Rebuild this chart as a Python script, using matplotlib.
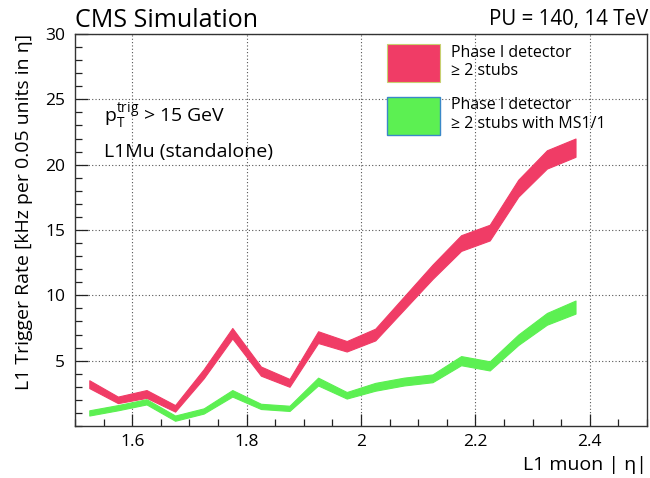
import matplotlib
matplotlib.use("Agg")
import matplotlib.pyplot as plt
from matplotlib.patches import Patch
from matplotlib.ticker import MultipleLocator, FixedLocator

# bin centres in |eta| (0.05 wide bins)
eta = [1.525, 1.575, 1.625, 1.675, 1.725, 1.775, 1.825, 1.875, 1.925,
       1.975, 2.025, 2.075, 2.125, 2.175, 2.225, 2.275, 2.325, 2.375]

# >= 2 stubs
rate_2stubs = [3.2, 2.0, 2.45, 1.35, 4.0, 7.1, 4.2, 3.3, 6.8,
               6.1, 7.0, 9.4, 11.8, 14.0, 14.8, 18.2, 20.4, 21.3]
err_2stubs = [0.3, 0.25, 0.3, 0.25, 0.35, 0.4, 0.35, 0.3, 0.45,
              0.4, 0.45, 0.5, 0.55, 0.6, 0.6, 0.65, 0.7, 0.7]

# >= 2 stubs with ME1/1
rate_ms11 = [1.0, 1.4, 1.85, 0.6, 1.15, 2.5, 1.5, 1.35, 3.4,
             2.35, 3.0, 3.4, 3.65, 5.0, 4.6, 6.6, 8.2, 9.1]
err_ms11 = [0.2, 0.2, 0.2, 0.2, 0.2, 0.25, 0.2, 0.2, 0.3,
            0.25, 0.3, 0.3, 0.3, 0.35, 0.35, 0.4, 0.45, 0.5]

RED = "#f03c66"
GREEN = "#5cf052"

plt.rcParams["font.family"] = ["Open Sans", "DejaVu Sans"]

fig = plt.figure(figsize=(6.5, 4.78), dpi=100)
ax = fig.add_axes([0.1154, 0.1088, 0.88, 0.8201])

lo = [r - e for r, e in zip(rate_2stubs, err_2stubs)]
hi = [r + e for r, e in zip(rate_2stubs, err_2stubs)]
ax.fill_between(eta, lo, hi, color=RED, lw=0.8, edgecolor=RED, zorder=3)
lo = [r - e for r, e in zip(rate_ms11, err_ms11)]
hi = [r + e for r, e in zip(rate_ms11, err_ms11)]
ax.fill_between(eta, lo, hi, color=GREEN, lw=0.8, edgecolor=GREEN, zorder=3)

ax.set_xlim(1.5, 2.5)
ax.set_ylim(0, 30)
ax.xaxis.set_major_locator(FixedLocator([1.6, 1.8, 2.0, 2.2, 2.4]))
ax.xaxis.set_minor_locator(MultipleLocator(0.05))
ax.yaxis.set_major_locator(FixedLocator([5, 10, 15, 20, 25, 30]))
ax.yaxis.set_minor_locator(MultipleLocator(1))
ax.set_xticklabels(["1.6", "1.8", "2", "2.2", "2.4"])
ax.tick_params(which="both", direction="in", top=False, right=False,
               labelsize=12.5, color="#222222")
ax.tick_params(which="major", length=9, width=0.9)
ax.tick_params(which="minor", length=5, width=0.9)
ax.tick_params(axis="x", pad=6)
ax.tick_params(axis="y", pad=7)
ax.grid(True, which="major", ls=(0, (1, 2)), color="#555555", lw=0.8)
for s in ax.spines.values():
    s.set_linewidth(1.0)
    s.set_color("#333333")

ax.set_xlabel("L1 muon | η|", fontsize=14, loc="right", labelpad=4)
ax.set_ylabel("L1 Trigger Rate [kHz per 0.05 units in η]", fontsize=14,
              loc="top", labelpad=9)

fig.text(0.1154, 0.9435, "CMS Simulation", fontsize=18, ha="left", va="baseline")
fig.text(0.997, 0.9477, "PU = 140, 14 TeV", fontsize=14.8, ha="right", va="baseline")

ax.text(0.05, 0.79, r"p$_\mathregular{T}^\mathregular{trig}$ > 15 GeV",
        transform=ax.transAxes, fontsize=14, va="center")
ax.text(0.05, 0.7, "L1Mu (standalone)", transform=ax.transAxes,
        fontsize=14, va="center")

handles = [Patch(facecolor=RED, edgecolor="#c8d070", lw=0.8),
           Patch(facecolor=GREEN, edgecolor="#3a88c8", lw=1.0)]
labels = ["Phase I detector\n≥ 2 stubs", "Phase I detector\n≥ 2 stubs with MS1/1"]
leg = ax.legend(handles, labels, loc="upper left", bbox_to_anchor=(0.535, 0.99),
                fontsize=11.5, frameon=False, handlelength=3.3, handleheight=3.3,
                labelspacing=0.9, handletextpad=0.7, borderaxespad=0)
leg.set_zorder(5)

fig.savefig("out.png", dpi=100)
